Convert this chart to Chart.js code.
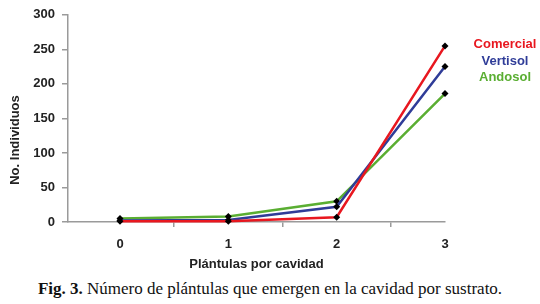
<!DOCTYPE html>
<html lang="es">
<head>
<meta charset="UTF-8">
<title>Plántulas por cavidad</title>
<script src="https://cdn.jsdelivr.net/npm/chart.js"></script>
<style>
    body { margin: 0; background: #fff; }
    #wrap { position: relative; width: 540px; height: 272px; }
    #caption {
        font-family: "Liberation Serif", "Times New Roman", serif;
        font-size: 17px;
        color: #111;
        text-align: center;
        margin-top: 7px;
    }
</style>
</head>
<body>
<div id="wrap"><canvas id="chart" width="540" height="272"></canvas></div>
<div id="caption"><b>Fig. 3.</b> Número de plántulas que emergen en la cavidad por sustrato.</div>
<script>
// data
const plantulas = [0, 1, 2, 3];
const seriesNames = ['Comercial', 'Vertisol', 'Andosol'];
const comercial = [1, 1, 7, 255];
const vertisol = [2, 3, 22, 225];
const andosol = [5, 8, 30, 186];
const yTicks = [0, 50, 100, 150, 200, 250, 300];

const colors = ['#e8171f', '#2f3c98', '#5aae32'];
const values = [comercial, vertisol, andosol];

const datasets = seriesNames.map((name, i) => ({
    label: name,
    data: plantulas.map((x, j) => ({ x: x, y: values[i][j] })),
    borderColor: colors[i],
    borderWidth: 2.5,
    pointStyle: 'rectRot',
    pointRadius: 3.5,
    pointBackgroundColor: '#000',
    pointBorderColor: '#000',
    pointBorderWidth: 0,
    tension: 0,
    clip: false
}));

const fontFamily = '"Liberation Sans", Arial, sans-serif';

// legend as coloured words right of the plot, plus the y title (sits low like the original)
const extras = {
    id: 'extras',
    afterDraw(chart) {
        const c = chart.ctx;
        c.save();
        c.font = 'bold 13px ' + fontFamily;
        c.textAlign = 'center';
        c.textBaseline = 'middle';
        const ys = [44, 61, 77];
        seriesNames.forEach((name, i) => {
            c.fillStyle = colors[i];
            c.fillText(name, 505, ys[i]);
        });
        c.translate(15, 140);
        c.rotate(-Math.PI / 2);
        c.fillStyle = '#222';
        c.fillText('No. Individuos', 0, 0);
        c.restore();
    }
};

const axisGray = '#9a9a9a';
const font = { family: fontFamily, weight: 'bold', size: 13 };

new Chart(document.getElementById('chart'), {
    type: 'line',
    data: { datasets: datasets },
    options: {
        responsive: false,
        animation: false,
        layout: { padding: { left: 0, right: 95, top: 12, bottom: 0 } },
        plugins: { legend: { display: false }, tooltip: { enabled: false } },
        scales: {
            x: {
                type: 'linear',
                min: -0.48,
                max: 3.0,
                afterBuildTicks: (s) => {
                    s.ticks = [0, 0.5, 1, 1.5, 2, 2.5, 3].map(v => ({ value: v }));
                },
                afterFit: (s) => { s.height = 50; },
                border: { color: axisGray, width: 1.5 },
                grid: {
                    drawOnChartArea: false,
                    tickLength: 5,
                    color: (ctx) => (ctx.tick && Number.isInteger(ctx.tick.value)) ? 'rgba(0,0,0,0)' : axisGray,
                    lineWidth: 1.5
                },
                ticks: {
                    autoSkip: false,
                    maxRotation: 0,
                    padding: 10,
                    color: '#222',
                    font: font,
                    callback: (v) => Number.isInteger(v) ? String(v) : ''
                },
                title: {
                    display: true,
                    text: 'Plántulas por cavidad',
                    color: '#222',
                    font: font,
                    padding: { top: 2, bottom: 0 }
                }
            },
            y: {
                min: 0,
                max: 300,
                afterBuildTicks: (s) => { s.ticks = yTicks.map(v => ({ value: v })); },
                afterFit: (s) => { s.width = 68; },
                border: { color: axisGray, width: 1.5 },
                grid: { drawOnChartArea: false, tickLength: 6, color: axisGray, lineWidth: 1.5 },
                ticks: { padding: 7, color: '#222', font: font }
            }
        }
    },
    plugins: [extras]
});
</script>
</body>
</html>
